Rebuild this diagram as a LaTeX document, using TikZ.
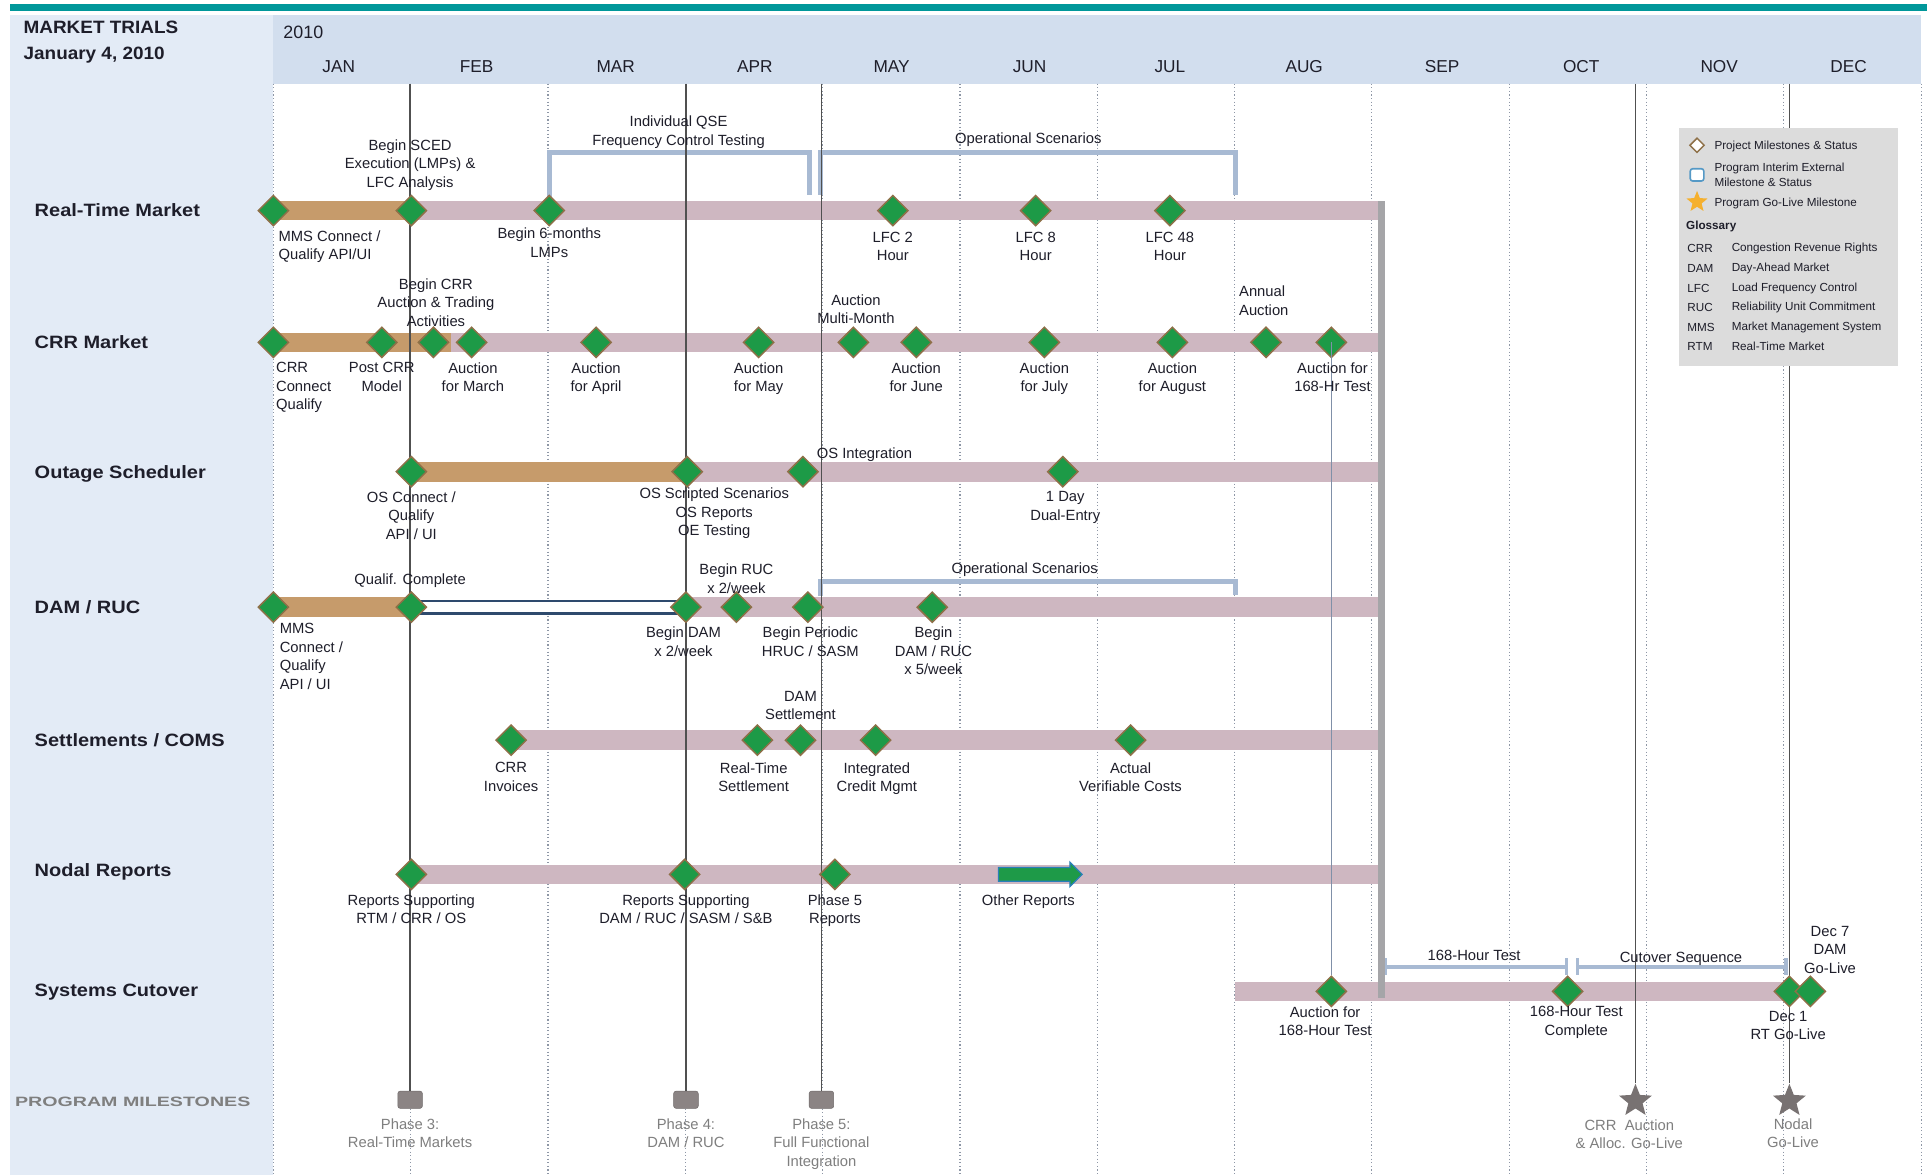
\documentclass[tikz,border=0pt]{standalone}
\usepackage{fontspec}
\setmainfont{Liberation Sans}
\usepackage{graphicx}
\usetikzlibrary{shapes.geometric,shapes.arrows}
\definecolor{teal1}{HTML}{00979A}
\definecolor{panel}{HTML}{E3EBF6}
\definecolor{hdr}{HTML}{D2DEEE}
\definecolor{tanc}{HTML}{C69B6B}
\definecolor{pinkc}{HTML}{CEB7C1}
\definecolor{msgreen}{HTML}{1D9A47}
\definecolor{msbrown}{HTML}{8E7048}
\definecolor{brkc}{HTML}{A8BAD3}
\definecolor{txt}{HTML}{1E1E2A}
\definecolor{gtxt}{HTML}{7F7F7F}
\definecolor{dotc}{HTML}{8E97A6}
\definecolor{solidc}{HTML}{505050}
\definecolor{thickgray}{HTML}{A5A5A8}
\definecolor{navyc}{HTML}{2E4A6D}
\definecolor{mboxc}{HTML}{8B8484}
\definecolor{legbg}{HTML}{DCDCDC}
\definecolor{orangestar}{HTML}{F5B02E}
\definecolor{arrgreen}{HTML}{1E9A48}
\definecolor{arrblue}{HTML}{2A7FB8}
\definecolor{thinc}{HTML}{8090A8}
\definecolor{stargray}{HTML}{787272}
\newcommand\lf{\fontsize{12}{15}\selectfont}
\newcommand\rowf{\fontsize{14.5}{17}\selectfont\bfseries}
\newcommand\legf{\fontsize{9.5}{11.5}\selectfont}
\tikzset{
 ms/.style={diamond, fill=msgreen, draw=msbrown, line width=1.2, minimum width=25, minimum height=25, inner sep=0},
 lb/.style={font=\lf, align=center, text=txt, inner sep=0, anchor=north},
 lbl/.style={font=\lf, align=left, text=txt, inner sep=0, anchor=north west},
 gl/.style={font=\lf, align=center, text=gtxt, inner sep=0, anchor=north},
 rowlab/.style={font=\rowf, text=txt, inner sep=0, anchor=west},
 dotline/.style={dotc, dotted, line width=0.9},
 solidline/.style={solidc, line width=1.2},
 brk/.style={brkc, line width=4},
 mbox/.style={fill=mboxc, draw=mboxc!80!black, rounded corners=2, minimum width=20, minimum height=14, inner sep=0},
 gstar/.style={star, star points=5, star point ratio=2.3, fill=stargray, minimum size=28, inner sep=0},
 legt/.style={font=\legf, text=txt, inner sep=0, anchor=west, align=left},
}
\begin{document}
\begin{tikzpicture}[x=1pt,y=-1pt]
\useasboundingbox (0,0) rectangle (1568,954);
\fill[white] (0,0) rectangle (1568,954);
% frame
\fill[teal1] (8,3) rectangle (1565,9);
\fill[panel] (8,12) rectangle (222,954);
\fill[hdr] (222,12) rectangle (1560,68);
\node[font=\fontsize{14.5}{16}\selectfont\bfseries, text=txt, anchor=west, inner sep=0] (title1) at (19,22) {\scalebox{1.06}[1]{MARKET TRIALS}};
\node[font=\fontsize{14.5}{16}\selectfont\bfseries, text=txt, anchor=west, inner sep=0] (title2) at (19,45) {\scalebox{1.06}[1]{January 4, 2010}};
\node[font=\fontsize{14.5}{16}\selectfont, text=txt, anchor=west, inner sep=0] (yr) at (230,26) {2010};
\foreach \m/\x [count=\i] in {JAN/275,FEB/387,MAR/500,APR/613,MAY/724,JUN/836,JUL/950,AUG/1059,SEP/1171,OCT/1284,NOV/1396,DEC/1501}
  \node[font=\fontsize{14}{16}\selectfont, text=txt, inner sep=0] (mon\i) at (\x,54) {\m};
% dotted month lines
\foreach \x in {222,333.5,445,556.5,668,779.5,891,1002.5,1114,1225.5,1337,1448.5,1560}
  \draw[dotline] (\x,68) -- (\x,954);
% row labels
\node[rowlab] (rl1) at (28,171) {\scalebox{1.12}[1]{Real-Time Market}};
\node[rowlab] (rl2) at (28,278) {\scalebox{1.12}[1]{CRR Market}};
\node[rowlab] (rl3) at (28,385) {\scalebox{1.12}[1]{Outage Scheduler}};
\node[rowlab] (rl4) at (28,493) {\scalebox{1.12}[1]{DAM / RUC}};
\node[rowlab] (rl5) at (28,601) {\scalebox{1.12}[1]{Settlements / COMS}};
\node[rowlab] (rl6) at (28,708) {\scalebox{1.12}[1]{Nodal Reports}};
\node[rowlab] (rl7) at (28,806) {\scalebox{1.12}[1]{Systems Cutover}};
\node[font=\fontsize{11}{13}\selectfont\bfseries, text=gtxt, anchor=west, inner sep=0] (rl8) at (12,895) {\scalebox{1.45}[1]{PROGRAM MILESTONES}};
% brackets
\coordinate (b1a) at (446,160); \coordinate (b1b) at (657,158);
\draw[brk] (b1a) -- (446,124) -- (657,124) -- (b1b);
\coordinate (b2a) at (666,158); \coordinate (b2b) at (1003,158);
\draw[brk] (b2a) -- (666,124) -- (1003,124) -- (b2b);
\coordinate (b3a) at (666,484); \coordinate (b3b) at (1003,483);
\draw[brk] (b3a) -- (666,472) -- (1003,472) -- (b3b);
\coordinate (c1a) at (1125,785); \coordinate (c1b) at (1272,785);
\draw[brkc, line width=3] (c1a) -- (c1b);
\draw[brkc, line width=3] (1125,778) -- (1125,792) (1272,778) -- (1272,792);
\coordinate (c2a) at (1281,785); \coordinate (c2b) at (1450,785);
\draw[brkc, line width=3] (c2a) -- (c2b);
\draw[brkc, line width=3] (1281,778) -- (1281,792) (1450,778) -- (1450,792);
% bars
\fill[tanc] (222,163) rectangle (334,179);
\fill[pinkc] (334,163) rectangle (1121,179);
\fill[tanc] (222,270) rectangle (366,286);
\fill[pinkc] (366,270) rectangle (1121,286);
\fill[tanc] (334,375) rectangle (557,391);
\fill[pinkc] (557,375) rectangle (1121,391);
\fill[tanc] (222,485) rectangle (334,501);
\draw[navyc, line width=2.4, fill=white] (334,488) rectangle (557,498);
\fill[pinkc] (557,485) rectangle (1121,501);
\fill[pinkc] (415,593) rectangle (1121,609);
\fill[pinkc] (334,702) rectangle (1121,718);
\fill[pinkc] (1003,797) rectangle (1458,813);
\fill[thickgray] (1119,163) rectangle (1125,810);
% program milestones
\node[mbox] (ph3) at (333,893) {};
\node[mbox] (ph4) at (557,893) {};
\node[mbox] (ph5) at (667,893) {};
\node[gstar] (st1) at (1328,894) {};
\node[gstar] (st2) at (1453,894) {};
\coordinate (t3) at (333,68); \coordinate (t4) at (557,68); \coordinate (t5) at (667,68);
\coordinate (t6) at (1328,68); \coordinate (t7) at (1453,68);
\draw[solidline] (t3) -- (ph3.north);
\draw[solidline] (t4) -- (ph4.north);
\draw[solidline] (t5) -- (ph5.north);
\draw[solidline] (t6) -- (st1.north);
\draw[solidline] (t7) -- (st2.north);
% diamonds
\foreach \x [count=\i] in {222,334,446,725,841,950} \node[ms] (rt\i) at (\x,171) {};
\foreach \x [count=\i] in {222,310,352,383,484,616,693,744,848,952,1028,1081} \node[ms] (crr\i) at (\x,278) {};
\foreach \x [count=\i] in {334,558,652,863} \node[ms] (os\i) at (\x,383) {};
\foreach \x [count=\i] in {222,334,557,598,656,757} \node[ms] (dam\i) at (\x,493) {};
\foreach \x [count=\i] in {415,615,650,711,918} \node[ms] (se\i) at (\x,601) {};
\foreach \x [count=\i] in {334,556,678} \node[ms] (nr\i) at (\x,710) {};
\foreach \x [count=\i] in {1081,1273,1453,1470} \node[ms] (sc\i) at (\x,805) {};
\draw[thinc, line width=1] (crr12.center) -- (sc1.north);
\node[single arrow, fill=arrgreen, draw=arrblue, line width=1, minimum height=68, inner xsep=0, inner ysep=5, single arrow head extend=4.5, single arrow head indent=0] (oarr) at (842,710) {};
% RTM labels
\node[lbl] (l1) at (226,187) {MMS Connect /\\Qualify API/UI};
\node[lb] (l2) at (333,113) {Begin SCED\\Execution (LMPs) \&\\LFC Analysis};
\node[lb] (l3) at (446,185) {Begin 6-months\\LMPs};
\node[lb] (l4) at (725,188) {LFC 2\\Hour};
\node[lb] (l5) at (841,188) {LFC 8\\Hour};
\node[lb] (l6) at (950,188) {LFC 48\\Hour};
\node[lb] (l7) at (551,94) {Individual QSE\\Frequency Control Testing};
\node[lb] (l8) at (835,108) {Operational Scenarios};
% CRR labels
\node[lbl] (c1) at (224,294) {CRR\\Connect\\Qualify};
\node[lb] (c2) at (310,294) {Post CRR\\Model};
\node[lb] (c3) at (384,294) {Auction\\for March};
\node[lb] (c4) at (484,294) {Auction\\for April};
\node[lb] (c5) at (616,294) {Auction\\for May};
\node[lb] (c6) at (744,294) {Auction\\for June};
\node[lb] (c7) at (848,294) {Auction\\for July};
\node[lb] (c8) at (952,294) {Auction\\for August};
\node[lb] (c9) at (1082,294) {Auction for\\168-Hr Test};
\node[lb] (c10) at (354,226) {Begin CRR\\Auction \& Trading\\Activities};
\node[lb] (c11) at (695,239) {Auction\\Multi-Month};
\node[lbl] (c12) at (1006,232) {Annual\\Auction};
% OS labels
\node[lb] (o1) at (334,399) {OS Connect /\\Qualify\\API / UI};
\node[lb] (o2) at (580,396) {OS Scripted Scenarios\\OS Reports\\OE Testing};
\node[lb] (o3) at (702,363) {OS Integration};
\node[lb] (o4) at (865,399) {1 Day\\Dual-Entry};
% DAM labels
\node[lb] (d1) at (333,466) {Qualif. Complete};
\node[lbl] (d2) at (227,506) {MMS\\Connect /\\Qualify\\API / UI};
\node[lb] (d3) at (555,509) {Begin DAM\\x 2/week};
\node[lb] (d4) at (598,458) {Begin RUC\\x 2/week};
\node[lb] (d5) at (658,509) {Begin Periodic\\HRUC / SASM};
\node[lb] (d6) at (758,509) {Begin\\DAM / RUC\\x 5/week};
\node[lb] (d7) at (832,457) {Operational Scenarios};
% Settlements labels
\node[lb] (s1) at (415,619) {CRR\\Invoices};
\node[lb] (s2) at (612,619) {Real-Time\\Settlement};
\node[lb] (s3) at (650,561) {DAM\\Settlement};
\node[lb] (s4) at (712,619) {Integrated\\Credit Mgmt};
\node[lb] (s5) at (918,619) {Actual\\Verifiable Costs};
% Nodal labels
\node[lb] (n1) at (334,726) {Reports Supporting\\RTM / CRR / OS};
\node[lb] (n2) at (557,726) {Reports Supporting\\DAM / RUC / SASM / S\&B};
\node[lb] (n3) at (678,726) {Phase 5\\Reports};
\node[lb] (n4) at (835,726) {Other Reports};
% Cutover labels
\node[lb] (u1) at (1076,817) {Auction for\\168-Hour Test};
\node[lb] (u2) at (1280,817) {168-Hour Test\\Complete};
\node[lb] (u3) at (1452,821) {Dec 1\\RT Go-Live};
\node[lb] (u4) at (1486,752) {Dec 7\\DAM\\Go-Live};
\node[lb] (u5) at (1197,771) {168-Hour Test};
\node[lb] (u6) at (1365,773) {Cutover Sequence};
% milestone labels
\node[gl] (m1) at (333,908) {Phase 3:\\Real-Time Markets};
\node[gl] (m2) at (557,908) {Phase 4:\\DAM / RUC};
\node[gl] (m3) at (667,908) {Phase 5:\\Full Functional\\Integration};
\node[gl] (m4) at (1323,909) {CRR\ \ Auction\\\& Alloc. Go-Live};
\node[gl] (m5) at (1456,908) {Nodal\\Go-Live};
% legend
\node[fill=legbg, minimum width=178, minimum height=193, anchor=north west, inner sep=0] (legend) at (1363,104) {};
\node[diamond, draw=msbrown, fill=white, line width=1.2, minimum width=12, minimum height=12, inner sep=0] (lgd) at (1378,118) {};
\node[legt] (lgdt) at (1392,119) {Project Milestones \& Status};
\node[draw=arrblue!80!white, fill=white, rounded corners=2, line width=1.3, minimum width=11, minimum height=10, inner sep=0] (lgb) at (1378,142) {};
\node[legt] (lgbt) at (1392,142) {Program Interim External\\Milestone \& Status};
\node[star, star points=5, star point ratio=2.3, fill=orangestar, minimum size=18, inner sep=0] (lgs) at (1378,164) {};
\node[legt] (lgst) at (1392,165) {Program Go-Live Milestone};
\node[legt, font=\legf\bfseries] (glos) at (1369,184) {Glossary};
\foreach \a/\d/\y [count=\i] in {CRR/Congestion Revenue Rights/202,DAM/Day-Ahead Market/218,LFC/Load Frequency Control/234,RUC/Reliability Unit Commitment/250,MMS/Market Management System/266,RTM/Real-Time Market/281}{
  \node[legt] (ga\i) at (1370,\y) {\a};
  \node[legt] (gd\i) at (1406,\y) {\d};
}
\end{tikzpicture}
\end{document}
